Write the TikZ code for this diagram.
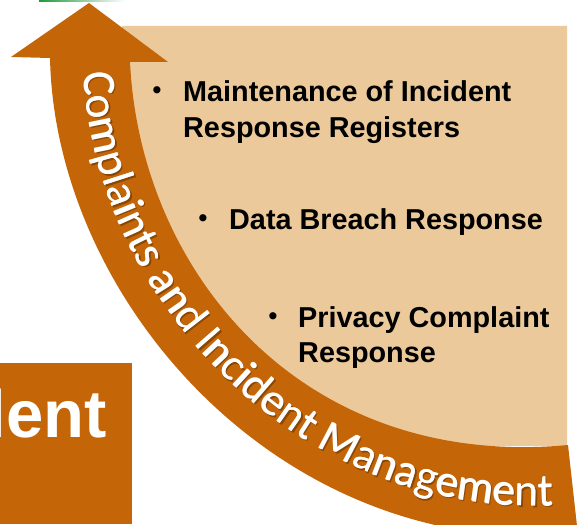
\documentclass[tikz,border=0pt]{standalone}
\usepackage{fontspec}
\setmainfont{Liberation Sans}
\newfontfamily\bandfont{Carlito}
\usetikzlibrary{decorations.text}
\definecolor{rust}{HTML}{C46508}
\definecolor{paleband}{HTML}{ECC99A}
\definecolor{leaf}{HTML}{1E9A3C}
\tikzset{
  bodytext/.style={font=\bfseries\fontsize{28.8}{36.5}\selectfont,text=black,inner sep=0pt,align=left,anchor=north west},
  bodytight/.style={font=\bfseries\fontsize{28.8}{35}\selectfont,text=black,inner sep=0pt,align=left,anchor=north west},
  dotmark/.style={font=\bfseries\fontsize{25}{25}\selectfont,text=black,inner sep=0pt},
  bandtext/.style={decorate,decoration={text along path,raise=0pt,text align={left},
     text={|\bandfont\fontsize{45.4}{46}\selectfont\color{#1}|Complaints and Incident Management}}}
}
\begin{document}
\begin{tikzpicture}[x=1pt,y=-1pt]
\useasboundingbox (0,0) rectangle (577,524);
\clip (0,0) rectangle (577,524);
\shade[left color=leaf,right color=white] (39,0) rectangle (125,2);
\fill[paleband] (122,26) -- (567,26) -- (567,446) -- (300,446) -- (122,200) -- cycle;
\fill[rust] (89,3) -- (168,62) -- (130,62)
  .. controls (140,270) and (300,470) .. (568,445)
  -- (578,535)
  .. controls (280,560) and (55,300) .. (50,58)
  -- (11,57) -- cycle;
\fill[rust] (0,363) rectangle (132,524);
\node[anchor=base east,inner sep=0pt,text=white,font=\bfseries\fontsize{67}{67}\selectfont] (lent) at (107,437) {lent};
\path[bandtext=rust!70!black] (85.8,73.8) .. controls (92.8,290.8) and (291.8,521.8) .. (561.8,506.8);
\path[bandtext=white] (84,72) .. controls (91,289) and (290,520) .. (560,505);
\path[bandtext=white] (84.5,72.3) .. controls (91.5,289.3) and (290.5,520.3) .. (560.5,505.3);
\node[dotmark] (b1) at (157,93) {•};
\node[bodytext] (t1) at (183,80) {Maintenance of Incident\\Response Registers};
\node[dotmark] (b2) at (203,221) {•};
\node[bodytext] (t2) at (229,208) {Data Breach Response};
\node[dotmark] (b3) at (273,319) {•};
\node[bodytight] (t3) at (298,306) {Privacy Complaint\\Response};
\end{tikzpicture}
\end{document}
